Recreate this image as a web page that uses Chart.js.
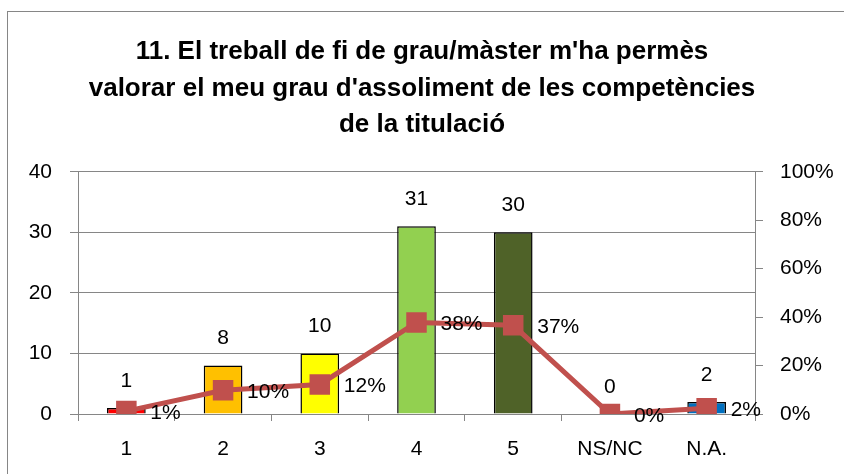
<!DOCTYPE html>
<html>
<head>
<meta charset="utf-8">
<script src="https://cdn.jsdelivr.net/npm/chart.js@4/dist/chart.umd.min.js"></script>
<style>
  body { margin: 0; background: #fff; }
  #wrap { position: relative; width: 844px; height: 474px; }
  #frame { position: absolute; left: 7px; top: 11px; width: 900px; height: 500px; border: 1px solid #868686; box-sizing: border-box; }
  canvas { position: absolute; left: 0; top: 0; }
</style>
</head>
<body>
<div id="wrap">
  <div id="frame"></div>
  <canvas id="chart" width="844" height="474"></canvas>
</div>
<script>
var titleLines = ["11. El treball de fi de grau/màster m'ha permès",
                  "valorar el meu grau d'assoliment de les competències",
                  "de la titulació"];
var categories = ["1", "2", "3", "4", "5", "NS/NC", "N.A."];
var counts = [1, 8, 10, 31, 30, 0, 2];
var percents = [1.2, 9.8, 12.2, 37.8, 36.6, 0, 2.4];
var percentLabels = ["1%", "10%", "12%", "38%", "37%", "0%", "2%"];
var barColors = ["#FF0000", "#FFC000", "#FFFF00", "#92D050", "#4F6228", "#F2F2F2", "#0070C0"];

var gridGray = "#868686";
var font = "'Liberation Sans', Arial, sans-serif";

// draws the value labels (bars above, line to the right)
var labelPlugin = {
  id: "labels",
  afterDatasetsDraw: function(chart) {
    var ctx = chart.ctx;
    ctx.save();
    ctx.fillStyle = "#000";
    ctx.font = "21px " + font;
    ctx.textBaseline = "middle";

    var barMeta = chart.getDatasetMeta(0);
    ctx.textAlign = "center";
    barMeta.data.forEach(function(bar, i) {
      ctx.fillText(String(counts[i]), bar.x, bar.y - 27);
    });

    var lineMeta = chart.getDatasetMeta(1);
    ctx.textAlign = "left";
    lineMeta.data.forEach(function(pt, i) {
      ctx.fillText(percentLabels[i], pt.x + 24, pt.y + 2);
    });
    ctx.restore();
  }
};

var ctx = document.getElementById("chart").getContext("2d");
var myChart = new Chart(ctx, {
  type: "bar",
  data: {
    labels: categories,
    datasets: [{
      type: "bar",
      data: counts,
      backgroundColor: barColors,
      borderColor: "#000",
      borderWidth: 1.5,
      barPercentage: 0.8,
      categoryPercentage: 0.5,
      yAxisID: "y",
      order: 2
    }, {
      type: "line",
      data: percents,
      borderColor: "#C0504D",
      backgroundColor: "#C0504D",
      borderWidth: 5,
      pointStyle: "rect",
      pointRadius: 14.5,
      pointBorderWidth: 0,
      tension: 0,
      yAxisID: "y1",
      order: 1
    }]
  },
  options: {
    responsive: false,
    animation: false,
    layout: { padding: { left: 0, right: 0, top: 0, bottom: 0 } },
    plugins: {
      legend: { display: false },
      tooltip: { enabled: false },
      title: {
        display: true,
        text: titleLines,
        color: "#000",
        font: { family: font, size: 26, weight: "bold", lineHeight: 1.42 },
        padding: { top: 33, bottom: 28 }
      }
    },
    scales: {
      x: {
        grid: { offset: true, drawOnChartArea: false, drawTicks: true, tickLength: 7, color: gridGray },
        border: { color: gridGray },
        ticks: { color: "#000", font: { family: font, size: 21 }, padding: 16 },
        afterFit: function(s) { s.height = 60; }
      },
      y: {
        position: "left",
        min: 0, max: 40,
        ticks: { stepSize: 10, color: "#000", font: { family: font, size: 21 }, padding: 18 },
        grid: { color: gridGray, tickLength: 8 },
        border: { color: gridGray },
        afterFit: function(s) { s.width = 78; }
      },
      y1: {
        position: "right",
        min: 0, max: 100,
        ticks: { stepSize: 20, color: "#000", font: { family: font, size: 21 }, padding: 17,
          callback: function(v) { return v + "%"; } },
        grid: { drawOnChartArea: false, color: gridGray, tickLength: 8 },
        border: { color: gridGray },
        afterFit: function(s) { s.width = 89; }
      }
    }
  },
  plugins: [labelPlugin]
});
</script>
</body>
</html>
